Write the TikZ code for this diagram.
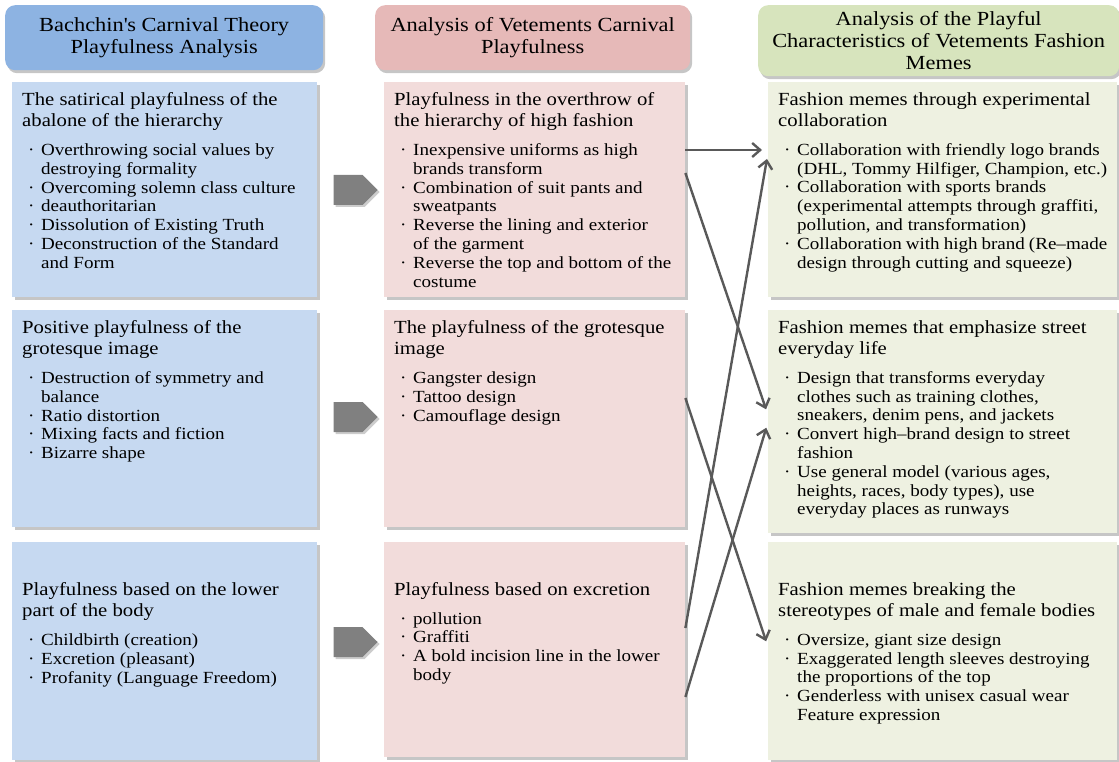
\documentclass[tikz,border=0pt]{standalone}
\usepackage{fontspec}
\setmainfont[FakeStretch=1.12]{Liberation Serif}
\usetikzlibrary{arrows.meta,shadows,shapes.symbols}

\definecolor{hdblue}{HTML}{8DB3E2}
\definecolor{bxblue}{HTML}{C6D9F1}
\definecolor{hdpink}{HTML}{E6B9B8}
\definecolor{bxpink}{HTML}{F2DCDB}
\definecolor{hdgreen}{HTML}{D7E4BD}
\definecolor{bxgreen}{HTML}{EEF1E1}
\definecolor{lnk}{HTML}{595959}

\newcommand{\dotitem}[1]{\par\noindent\hangindent=19pt\hangafter=1\makebox[19pt][l]{\hspace{6pt}\textperiodcentered}#1}
\newcommand{\paneltext}[5][0pt]{%
  \begin{minipage}[t][#3][t]{#2}\vspace*{#1}%
  {\fontsize{18.5}{21.5}\selectfont #4\par}\vspace{10pt}%
  \fontsize{17}{18.8}\selectfont #5%
  \end{minipage}}

\begin{document}
\begin{tikzpicture}[x=1pt,y=-1pt,
  head/.style={fill=#1, rounded corners=10pt, align=center, anchor=north west, inner sep=0pt,
    font=\fontsize{20}{22}\selectfont, drop shadow={shadow xshift=2pt,shadow yshift=-3pt,opacity=.45}},
  panel/.style={fill=#1, anchor=north west, inner sep=10pt,
    drop shadow={shadow xshift=2.5pt,shadow yshift=-2.5pt,opacity=.45}},
  pointer/.style={signal, signal to=east, signal pointer angle=90, fill=black!50, inner sep=0pt,
    minimum width=44pt, minimum height=30pt, drop shadow={shadow xshift=2pt,shadow yshift=-2pt,opacity=.4}},
  link/.style={draw=lnk, line width=2.4pt, -{Straight Barb[length=8pt,width=14pt]}, shorten >=6pt}]
\useasboundingbox (0,0) rectangle (1119,762);

% column heads
\node[head=hdblue, minimum width=318pt, minimum height=65pt] (H1) at (5,5)
  {Bachchin\textquotesingle s Carnival Theory\\Playfulness Analysis};
\node[head=hdpink, minimum width=315pt, minimum height=65pt] (H2) at (375,5)
  {Analysis of Vetements Carnival\\Playfulness};
\node[head=hdgreen, minimum width=361pt, minimum height=71pt] (H3) at (758,5)
  {Analysis of the Playful\\Characteristics of Vetements Fashion\\Memes};

% Bachchin column
\node[panel=bxblue] (L1) at (12,82) {\paneltext{285pt}{195pt}
  {The satirical playfulness of the\\abalone of the hierarchy}
  {\dotitem{Overthrowing social values by\\destroying formality}
   \dotitem{Overcoming solemn class culture}
   \dotitem{deauthoritarian}
   \dotitem{Dissolution of Existing Truth}
   \dotitem{Deconstruction of the Standard\\and Form}}};
\node[panel=bxblue] (L2) at (12,310) {\paneltext{285pt}{197pt}
  {Positive playfulness of the\\grotesque image}
  {\dotitem{Destruction of symmetry and\\balance}
   \dotitem{Ratio distortion}
   \dotitem{Mixing facts and fiction}
   \dotitem{Bizarre shape}}};
\node[panel=bxblue] (L3) at (12,542) {\paneltext[30pt]{285pt}{198pt}
  {Playfulness based on the lower\\part of the body}
  {\dotitem{Childbirth (creation)}
   \dotitem{Excretion (pleasant)}
   \dotitem{Profanity (Language Freedom)}}};

% Vetements column
\node[panel=bxpink] (M1) at (384,82) {\paneltext{281pt}{195pt}
  {Playfulness in the overthrow of\\the hierarchy of high fashion}
  {\dotitem{Inexpensive uniforms as high\\brands transform}
   \dotitem{Combination of suit pants and\\sweatpants}
   \dotitem{Reverse the lining and exterior\\of the garment}
   \dotitem{Reverse the top and bottom of the\\costume}}};
\node[panel=bxpink] (M2) at (384,310) {\paneltext{281pt}{197pt}
  {The playfulness of the grotesque\\image}
  {\dotitem{Gangster design}
   \dotitem{Tattoo design}
   \dotitem{Camouflage design}}};
\node[panel=bxpink] (M3) at (384,542) {\paneltext[30pt]{281pt}{195pt}
  {Playfulness based on excretion}
  {\dotitem{pollution}
   \dotitem{Graffiti}
   \dotitem{A bold incision line in the lower\\body}}};

% fashion meme column
\node[panel=bxgreen] (R1) at (768,82) {\paneltext{329pt}{195pt}
  {Fashion memes through experimental\\collaboration}
  {\dotitem{Collaboration with friendly logo brands\\(DHL, Tommy Hilfiger, Champion, etc.)}
   \dotitem{Collaboration with sports brands\\(experimental attempts through graffiti,\\pollution, and transformation)}
   \dotitem{Collaboration with high brand (Re–made\\design through cutting and squeeze)}}};
\node[panel=bxgreen] (R2) at (768,310) {\paneltext{329pt}{203pt}
  {Fashion memes that emphasize street\\everyday life}
  {\dotitem{Design that transforms everyday\\clothes such as training clothes,\\sneakers, denim pens, and jackets}
   \dotitem{Convert high–brand design to street\\fashion}
   \dotitem{Use general model (various ages,\\heights, races, body types), use\\everyday places as runways}}};
\node[panel=bxgreen] (R3) at (768,542) {\paneltext[30pt]{329pt}{198pt}
  {Fashion memes breaking the\\stereotypes of male and female bodies}
  {\dotitem{Oversize, giant size design}
   \dotitem{Exaggerated length sleeves destroying\\the proportions of the top}
   \dotitem{Genderless with unisex casual wear\\Feature expression}}};

% block arrows
\node[pointer] (A1) at (348,190) {};
\node[pointer] (A2) at (348,417) {};
\node[pointer] (A3) at (348,642) {};

% links
\foreach \a/\ya/\b/\yb in {M1/68/R1/68, M1/91/R2/105, M2/88/R3/105, M3/86/R1/71, M3/155/R2/112}
  \draw[link] ([yshift=-\ya pt]\a.north east) -- ([yshift=-\yb pt]\b.north west);
\end{tikzpicture}
\end{document}
